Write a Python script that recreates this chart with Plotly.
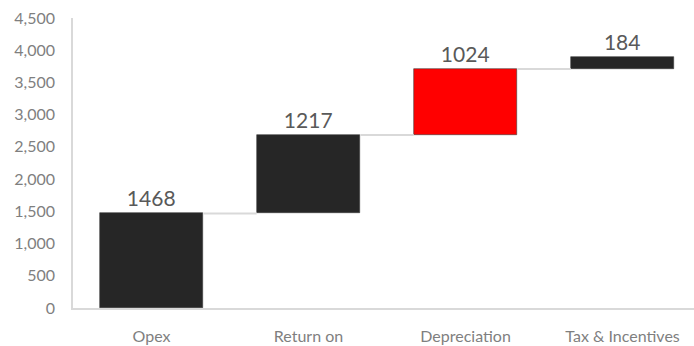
import plotly.graph_objects as go

categories = ["Opex", "Return on", "Depreciation", "Tax & Incentives"]
values = [1468, 1217, 1024, 184]
bar_colors = ["#262626", "#262626", "#ff0000", "#262626"]
y_ticks = [0, 500, 1000, 1500, 2000, 2500, 3000, 3500, 4000, 4500]

bar_width = 0.66
positions = list(range(len(categories)))

# running totals: each step starts where the previous one ended
bases = []
total = 0
for v in values:
    bases.append(total)
    total += v
tops = [b + v for b, v in zip(bases, values)]

fig = go.Figure()

# connector lines between consecutive steps
for i in range(len(values) - 1):
    fig.add_trace(go.Scatter(
        x=[positions[i] + bar_width / 2, positions[i + 1] - bar_width / 2],
        y=[tops[i], tops[i]],
        mode="lines",
        line=dict(color="#d9d9d9", width=2),
        hoverinfo="skip",
        showlegend=False,
    ))

fig.add_trace(go.Bar(
    x=positions,
    y=values,
    base=bases,
    width=bar_width,
    marker=dict(color=bar_colors, line=dict(color="#3a3a3a", width=0.6)),
    text=[str(v) for v in values],
    textposition="outside",
    textfont=dict(family="Lato", size=21, color="#595959"),
    cliponaxis=False,
    showlegend=False,
))

fig.update_layout(
    width=694,
    height=346,
    margin=dict(l=73, r=0, t=18, b=38),
    paper_bgcolor="white",
    plot_bgcolor="white",
    font=dict(family="Lato", color="#7f7f7f"),
    bargap=0,
)

fig.update_xaxes(
    range=[-0.5, 3.455],
    tickvals=positions,
    ticktext=categories,
    tickfont=dict(size=16, color="#7f7f7f"),
    showgrid=False,
    zeroline=False,
    showline=True,
    linecolor="#d9d9d9",
    linewidth=2,
    ticks="",
    ticklabelstandoff=13,
)

fig.update_yaxes(
    range=[0, 4500],
    tickvals=y_ticks,
    ticktext=[f"{t:,}" for t in y_ticks],
    tickfont=dict(size=16, color="#7f7f7f"),
    showgrid=False,
    zeroline=False,
    showline=True,
    linecolor="#d9d9d9",
    linewidth=1.5,
    ticks="",
    ticklabelstandoff=13,
)

fig.write_html("out.html")
